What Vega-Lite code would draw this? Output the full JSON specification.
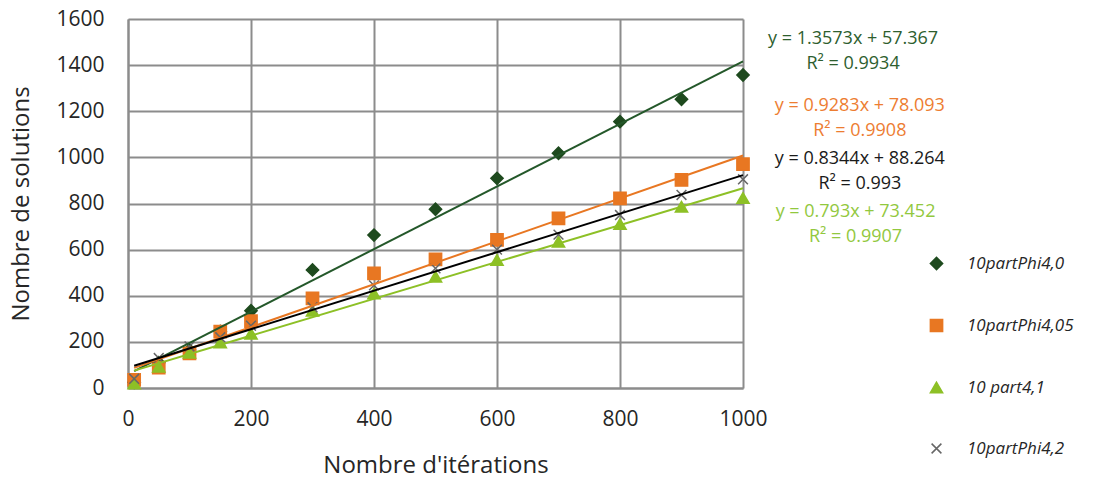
{
  "$schema": "https://vega.github.io/schema/vega-lite/v6.json",
  "width": 615,
  "height": 369,
  "autosize": {"type": "none"},
  "padding": {"left": 128, "top": 19, "right": 365, "bottom": 94},
  "background": "white",
  "config": {"view": {"stroke": null}, "font": "Open Sans"},
  "datasets": {
    "pts": [
      {"iter": 10, "sol": 25, "serie": "10partPhi4,0"},
      {"iter": 50, "sol": 110, "serie": "10partPhi4,0"},
      {"iter": 100, "sol": 165, "serie": "10partPhi4,0"},
      {"iter": 150, "sol": 245, "serie": "10partPhi4,0"},
      {"iter": 200, "sol": 335, "serie": "10partPhi4,0"},
      {"iter": 300, "sol": 512, "serie": "10partPhi4,0"},
      {"iter": 400, "sol": 663, "serie": "10partPhi4,0"},
      {"iter": 500, "sol": 775, "serie": "10partPhi4,0"},
      {"iter": 600, "sol": 909, "serie": "10partPhi4,0"},
      {"iter": 700, "sol": 1018, "serie": "10partPhi4,0"},
      {"iter": 800, "sol": 1155, "serie": "10partPhi4,0"},
      {"iter": 900, "sol": 1252, "serie": "10partPhi4,0"},
      {"iter": 1000, "sol": 1357, "serie": "10partPhi4,0"},
      {"iter": 10, "sol": 35, "serie": "10partPhi4,05"},
      {"iter": 50, "sol": 88, "serie": "10partPhi4,05"},
      {"iter": 100, "sol": 150, "serie": "10partPhi4,05"},
      {"iter": 150, "sol": 244, "serie": "10partPhi4,05"},
      {"iter": 200, "sol": 290, "serie": "10partPhi4,05"},
      {"iter": 300, "sol": 389, "serie": "10partPhi4,05"},
      {"iter": 400, "sol": 497, "serie": "10partPhi4,05"},
      {"iter": 500, "sol": 558, "serie": "10partPhi4,05"},
      {"iter": 600, "sol": 642, "serie": "10partPhi4,05"},
      {"iter": 700, "sol": 736, "serie": "10partPhi4,05"},
      {"iter": 800, "sol": 822, "serie": "10partPhi4,05"},
      {"iter": 900, "sol": 902, "serie": "10partPhi4,05"},
      {"iter": 1000, "sol": 971, "serie": "10partPhi4,05"},
      {"iter": 10, "sol": 20, "serie": "10 part4,1"},
      {"iter": 50, "sol": 92, "serie": "10 part4,1"},
      {"iter": 100, "sol": 153, "serie": "10 part4,1"},
      {"iter": 150, "sol": 198, "serie": "10 part4,1"},
      {"iter": 200, "sol": 236, "serie": "10 part4,1"},
      {"iter": 300, "sol": 335, "serie": "10 part4,1"},
      {"iter": 400, "sol": 410, "serie": "10 part4,1"},
      {"iter": 500, "sol": 483, "serie": "10 part4,1"},
      {"iter": 600, "sol": 555, "serie": "10 part4,1"},
      {"iter": 700, "sol": 634, "serie": "10 part4,1"},
      {"iter": 800, "sol": 711, "serie": "10 part4,1"},
      {"iter": 900, "sol": 786, "serie": "10 part4,1"},
      {"iter": 1000, "sol": 824, "serie": "10 part4,1"},
      {"iter": 10, "sol": 40, "serie": "10partPhi4,2"},
      {"iter": 50, "sol": 130, "serie": "10partPhi4,2"},
      {"iter": 100, "sol": 180, "serie": "10partPhi4,2"},
      {"iter": 150, "sol": 220, "serie": "10partPhi4,2"},
      {"iter": 200, "sol": 270, "serie": "10partPhi4,2"},
      {"iter": 300, "sol": 350, "serie": "10partPhi4,2"},
      {"iter": 400, "sol": 445, "serie": "10partPhi4,2"},
      {"iter": 500, "sol": 519, "serie": "10partPhi4,2"},
      {"iter": 600, "sol": 600, "serie": "10partPhi4,2"},
      {"iter": 700, "sol": 665, "serie": "10partPhi4,2"},
      {"iter": 800, "sol": 750, "serie": "10partPhi4,2"},
      {"iter": 900, "sol": 837, "serie": "10partPhi4,2"},
      {"iter": 1000, "sol": 905, "serie": "10partPhi4,2"}
    ]
  },
  "layer": [
    {
      "data": {"name": "pts"},
      "mark": {"type": "point", "filled": true, "opacity": 1, "strokeWidth": 1.5, "size": 150},
      "encoding": {
        "x": {
          "field": "iter",
          "type": "quantitative",
          "scale": {"domain": [0, 1000], "nice": false},
          "axis": {
            "values": [0, 200, 400, 600, 800, 1000],
            "format": "d",
            "grid": true,
            "gridColor": "#8c8c8c",
            "gridWidth": 2,
            "domainColor": "#8c8c8c",
            "domainWidth": 2,
            "ticks": false,
            "labelFontSize": 21,
            "labelColor": "#262626",
            "labelPadding": 20,
            "labelFlush": false,
            "title": "Nombre d'itérations",
            "titleFontSize": 24,
            "titleFontWeight": "normal",
            "titleColor": "#262626",
            "titlePadding": 24
          }
        },
        "y": {
          "field": "sol",
          "type": "quantitative",
          "scale": {"domain": [0, 1600], "nice": false},
          "axis": {
            "values": [0, 200, 400, 600, 800, 1000, 1200, 1400, 1600],
            "format": "d",
            "grid": true,
            "gridColor": "#8c8c8c",
            "gridWidth": 2,
            "domainColor": "#8c8c8c",
            "domainWidth": 2,
            "ticks": false,
            "labelFontSize": 21,
            "labelColor": "#262626",
            "labelPadding": 24,
            "labelFlush": false,
            "title": "Nombre de solutions",
            "titleFontSize": 24,
            "titleFontWeight": "normal",
            "titleColor": "#262626",
            "titlePadding": 22
          }
        },
        "fill": {
          "field": "serie",
          "type": "nominal",
          "scale": {"domain": ["10partPhi4,0", "10partPhi4,05", "10 part4,1", "10partPhi4,2"], "range": ["#1e4a1e", "#e87722", "#8dc026", "#666666"]},
          "legend": {"orient": "none", "legendX": 800, "legendY": 236, "title": null, "labelFontSize": 17, "labelFontStyle": "italic", "labelColor": "#262626", "rowPadding": 43, "symbolSize": 150, "labelOffset": 22, "symbolStrokeWidth": 1.5}
        },
        "stroke": {
          "field": "serie",
          "type": "nominal",
          "scale": {"domain": ["10partPhi4,0", "10partPhi4,05", "10 part4,1", "10partPhi4,2"], "range": ["#1e4a1e", "#e87722", "#8dc026", "#666666"]},
          "legend": {"orient": "none", "legendX": 800, "legendY": 236, "title": null, "labelFontSize": 17, "labelFontStyle": "italic", "labelColor": "#262626", "rowPadding": 43, "symbolSize": 150, "labelOffset": 22, "symbolStrokeWidth": 1.5}
        },
        "shape": {
          "field": "serie",
          "type": "nominal",
          "scale": {"domain": ["10partPhi4,0", "10partPhi4,05", "10 part4,1", "10partPhi4,2"], "range": ["diamond", "square", "triangle-up", "M-0.8,-0.8L0.8,0.8M0.8,-0.8L-0.8,0.8"]},
          "legend": {"orient": "none", "legendX": 800, "legendY": 236, "title": null, "labelFontSize": 17, "labelFontStyle": "italic", "labelColor": "#262626", "rowPadding": 43, "symbolSize": 150, "labelOffset": 22, "symbolStrokeWidth": 1.5}
        }
      }
    },
    {
      "data": {"name": "pts"},
      "transform": [{"regression": "sol", "on": "iter", "groupby": ["serie"]}],
      "mark": {"type": "line", "strokeWidth": 2},
      "encoding": {
        "x": {"field": "iter", "type": "quantitative"},
        "y": {"field": "sol", "type": "quantitative"},
        "color": {
          "field": "serie",
          "type": "nominal",
          "scale": {"domain": ["10partPhi4,0", "10partPhi4,05", "10 part4,1", "10partPhi4,2"], "range": ["#24582a", "#e87722", "#8dc026", "#000000"]},
          "legend": null
        }
      }
    },
    {
      "data": {"values": [{"t": "y = 1.3573x + 57.367\nR² = 0.9934"}]},
      "mark": {"type": "text", "fontSize": 18, "lineBreak": "\n", "lineHeight": 25, "align": "center", "baseline": "middle", "color": "#2e5e2e"},
      "encoding": {"x": {"datum": 1179}, "y": {"datum": 1513}, "text": {"field": "t", "type": "nominal"}}
    },
    {
      "data": {"values": [{"t": "y = 0.9283x + 78.093\nR² = 0.9908"}]},
      "mark": {"type": "text", "fontSize": 18, "lineBreak": "\n", "lineHeight": 25, "align": "center", "baseline": "middle", "color": "#ed7d31"},
      "encoding": {"x": {"datum": 1190}, "y": {"datum": 1222}, "text": {"field": "t", "type": "nominal"}}
    },
    {
      "data": {"values": [{"t": "y = 0.8344x + 88.264\nR² = 0.993"}]},
      "mark": {"type": "text", "fontSize": 18, "lineBreak": "\n", "lineHeight": 25, "align": "center", "baseline": "middle", "color": "#1a1a1a"},
      "encoding": {"x": {"datum": 1190}, "y": {"datum": 995}, "text": {"field": "t", "type": "nominal"}}
    },
    {
      "data": {"values": [{"t": "y = 0.793x + 73.452\nR² = 0.9907"}]},
      "mark": {"type": "text", "fontSize": 18, "lineBreak": "\n", "lineHeight": 25, "align": "center", "baseline": "middle", "color": "#92c83e"},
      "encoding": {"x": {"datum": 1183}, "y": {"datum": 761}, "text": {"field": "t", "type": "nominal"}}
    }
  ]
}
